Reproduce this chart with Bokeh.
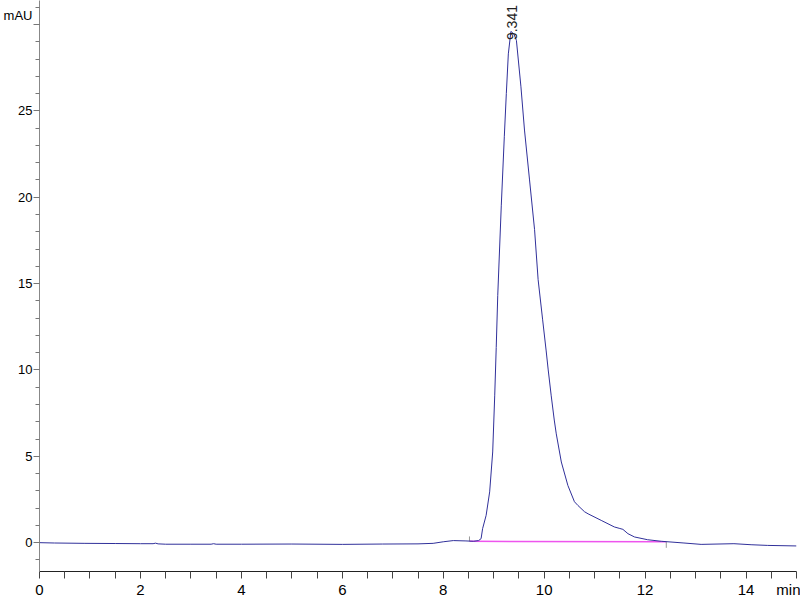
import numpy as np
from bokeh.plotting import figure
from bokeh.models import Range1d, FixedTicker
from bokeh.embed import file_html
from bokeh.resources import INLINE
from bokeh.core.properties import value

# ---- data ----
time_min = [0.0, 0.3, 0.9, 1.5, 2.0, 2.25, 2.3, 2.35, 2.5, 3.0, 3.4, 3.45, 3.5,
            4.0, 5.0, 6.0, 6.8, 7.5, 7.8, 8.0, 8.2, 8.45, 8.6, 8.7, 8.75, 8.78,
            8.85, 8.92, 8.98, 9.02, 9.05, 9.08, 9.15, 9.21, 9.25, 9.29, 9.341,
            9.40, 9.45, 9.54, 9.61, 9.71, 9.81, 9.88, 9.97, 10.04, 10.08, 10.14,
            10.20, 10.24, 10.34, 10.47, 10.60, 10.67, 10.80, 10.87, 11.13, 11.39,
            11.50, 11.56, 11.66, 11.79, 12.05, 12.32, 12.77, 13.11, 13.76, 14.10,
            14.43, 15.0]
signal_mau = [0.00, -0.02, -0.04, -0.05, -0.06, -0.06, -0.03, -0.07, -0.09, -0.09,
              -0.09, -0.06, -0.09, -0.09, -0.08, -0.10, -0.08, -0.07, -0.04, 0.05,
              0.12, 0.10, 0.08, 0.12, 0.23, 0.81, 1.58, 2.94, 5.25, 8.5, 11.3,
              14.3, 19.5, 23.5, 26.0, 28.3, 29.6, 29.45, 29.08, 26.39, 23.89,
              21.0, 18.12, 15.23, 12.9, 11.1, 10.0, 8.5, 7.1, 6.3, 4.67, 3.31,
              2.37, 2.15, 1.79, 1.67, 1.29, 0.91, 0.82, 0.77, 0.52, 0.33, 0.17, 0.08,
              -0.02, -0.10, -0.06, -0.12, -0.16, -0.19]

peak_time = [9.36]
peak_top = [29.1]
peak_labels = ["9.341"]

baseline_t = [8.52, 12.42]
baseline_v = [0.08, 0.05]

x_ticks = [0, 2, 4, 6, 8, 10, 12, 14, 14.85]
x_labels = {14.85: "min"}
x_minor = [i * 0.5 for i in range(31)]
y_ticks = [0, 5, 10, 15, 20, 25, 30]
y_labels = {30: "mAU\n"}
y_minor = list(range(-1, 32))

FONT = "Liberation Sans"

p = figure(width=800, height=600, output_backend="svg", toolbar_location=None,
           x_range=Range1d(0, 15), y_range=Range1d(-1.67, 31.39),
           min_border_left=38, min_border_right=4, min_border_top=0,
           min_border_bottom=27)
p.xgrid.visible = False
p.ygrid.visible = False
p.outline_line_color = None
p.background_fill_color = "white"
p.border_fill_color = "white"

# x axis (all tick marks drawn as equal-length minor ticks)
p.xaxis.ticker = FixedTicker(ticks=x_ticks, minor_ticks=x_minor)
p.xaxis.major_label_overrides = x_labels
p.xaxis.axis_line_color = "#222222"
p.xaxis.major_tick_line_color = None
p.xaxis.minor_tick_line_color = "#444444"
p.xaxis.major_tick_out = 7
p.xaxis.major_tick_in = 0
p.xaxis.minor_tick_out = 7
p.xaxis.minor_tick_in = 0
p.xaxis.major_label_standoff = 2
p.xaxis.major_label_text_font = FONT
p.xaxis.major_label_text_font_size = "15px"
p.xaxis.major_label_text_color = "black"

# y axis
p.yaxis.ticker = FixedTicker(ticks=y_ticks, minor_ticks=y_minor)
p.yaxis.major_label_overrides = y_labels
p.yaxis.axis_line_color = "#888888"
p.yaxis.major_tick_line_color = "#777777"
p.yaxis.minor_tick_line_color = "#777777"
p.yaxis.major_tick_out = 6
p.yaxis.major_tick_in = 0
p.yaxis.minor_tick_out = 4
p.yaxis.minor_tick_in = 0
p.yaxis.major_label_standoff = 1
p.yaxis.major_label_text_font = FONT
p.yaxis.major_label_text_font_size = "13px"
p.yaxis.major_label_text_color = "black"

# integration baseline
p.line(baseline_t, baseline_v, color="#ee55ee", line_width=1.5)
p.segment(x0=baseline_t[:1], y0=baseline_v[:1], x1=baseline_t[:1],
          y1=[baseline_v[0] + 0.28], color="#999999", line_width=1)
p.segment(x0=baseline_t[1:], y0=baseline_v[1:], x1=baseline_t[1:],
          y1=[baseline_v[1] - 0.35], color="#999999", line_width=1)

# trace
p.line(time_min, signal_mau, color="#30309a", line_width=1)

# peak label
p.text(x=peak_time, y=peak_top, text=peak_labels, angle=np.pi / 2,
       text_align="left", text_baseline="middle",
       text_font=value(FONT), text_font_size="14px",
       text_color="#222222")

open("out.html", "w").write(file_html(p, INLINE))
